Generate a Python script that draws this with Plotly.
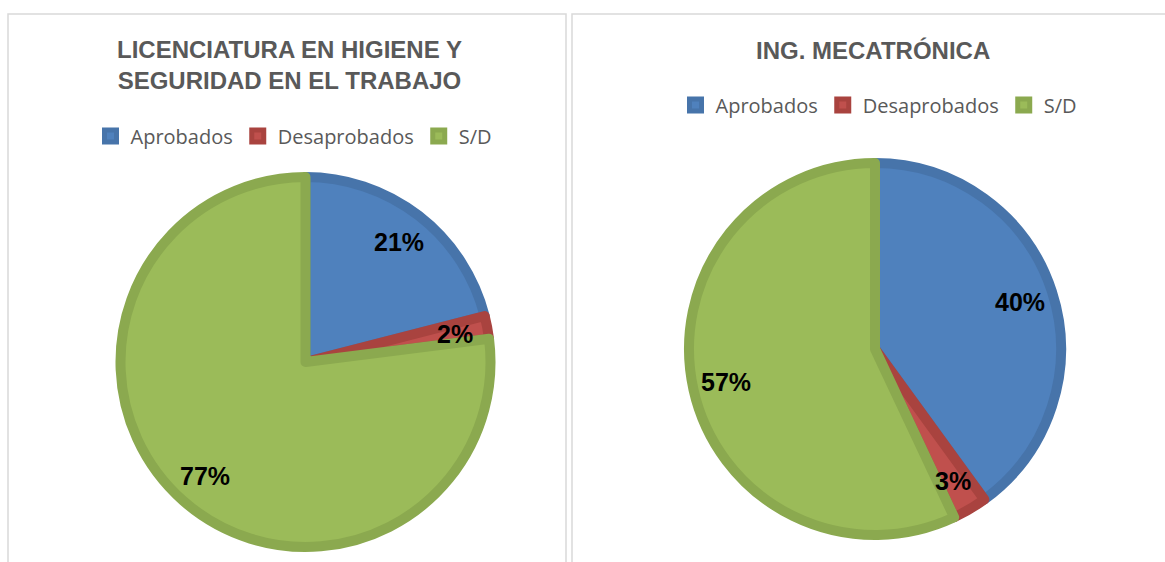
import math
import plotly.graph_objects as go

W, H = 1165, 562

labels = ["Aprobados", "Desaprobados", "S/D"]
vals_higiene = [21, 2, 77]
vals_meca = [40, 3, 57]
titles = ["LICENCIATURA EN HIGIENE Y<br>SEGURIDAD EN EL TRABAJO", "ING. MECATRÓNICA"]

fill_colors = ["#4F81BD", "#C0504D", "#9BBB59"]
line_colors = ["#4774AA", "#A9433F", "#8BA94F"]

STROKE = 10

def px(x):
    return x / W

def py(y):
    return 1 - y / H

# pie geometry (pixel centre and outer radius); second pie labels get a zero-width
# suffix so that each legend box lists its own entries
pies = [
    dict(vals=vals_higiene, labels=labels, cx=305.5, cy=362, R=190, legend="legend",
         title=titles[0], ty=65, tx=289),
    dict(vals=vals_meca, labels=[l + "\u200b" for l in labels], cx=875, cy=349, R=191,
         legend="legend2", title=titles[1], ty=50, tx=873),
]

fig = go.Figure()
annotations = []
for p in pies:
    r = p["R"] - STROKE / 2
    fig.add_trace(go.Pie(
        labels=p["labels"], values=p["vals"], sort=False, direction="clockwise", rotation=0,
        marker=dict(colors=fill_colors, line=dict(color=line_colors, width=STROKE)),
        textinfo="none", hoverinfo="label+percent",
        domain=dict(x=[px(p["cx"] - r), px(p["cx"] + r)], y=[py(p["cy"] + r), py(p["cy"] - r)]),
        legend=p["legend"], showlegend=True,
    ))
    total = sum(p["vals"])
    cum = 0
    for v in p["vals"]:
        mid = (cum + v / 2) / total * 2 * math.pi
        cum += v
        lx = p["cx"] + 0.8 * p["R"] * math.sin(mid)
        ly = p["cy"] - 0.8 * p["R"] * math.cos(mid)
        annotations.append(dict(
            x=px(lx), y=py(ly), xref="paper", yref="paper", showarrow=False,
            text=f"{round(v / total * 100)}%",
            font=dict(family="Liberation Sans, Arial", size=25, color="black", weight="bold"),
            xanchor="center", yanchor="middle",
        ))
    annotations.append(dict(
        x=px(p["tx"]), y=py(p["ty"]), xref="paper", yref="paper", showarrow=False,
        text=p["title"], align="center",
        font=dict(family="Liberation Sans, Arial", size=24, color="#595959", weight="bold"),
        xanchor="center", yanchor="middle",
    ))

legend_font = dict(family="Open Sans, Noto Sans", size=20, color="#595959")
fig.update_layout(
    width=W, height=H,
    margin=dict(l=0, r=0, t=0, b=0),
    paper_bgcolor="white", plot_bgcolor="white",
    annotations=annotations,
    legend=dict(orientation="h", x=px(294), y=py(136), xanchor="center", yanchor="middle",
                font=legend_font, bgcolor="rgba(0,0,0,0)"),
    legend2=dict(orientation="h", x=px(879), y=py(105), xanchor="center", yanchor="middle",
                 font=legend_font, bgcolor="rgba(0,0,0,0)"),
    shapes=[
        dict(type="rect", xref="paper", yref="paper", x0=px(8), x1=px(566), y0=-0.1, y1=py(14),
             line=dict(color="#D9D9D9", width=1.5), layer="below"),
        dict(type="rect", xref="paper", yref="paper", x0=px(572), x1=1.1, y0=-0.1, y1=py(14),
             line=dict(color="#D9D9D9", width=1.5), layer="below"),
    ],
)

fig.write_html("out.html", config={"displayModeBar": False},
               post_script="document.body.style.margin='0px';document.body.style.padding='0px';")
